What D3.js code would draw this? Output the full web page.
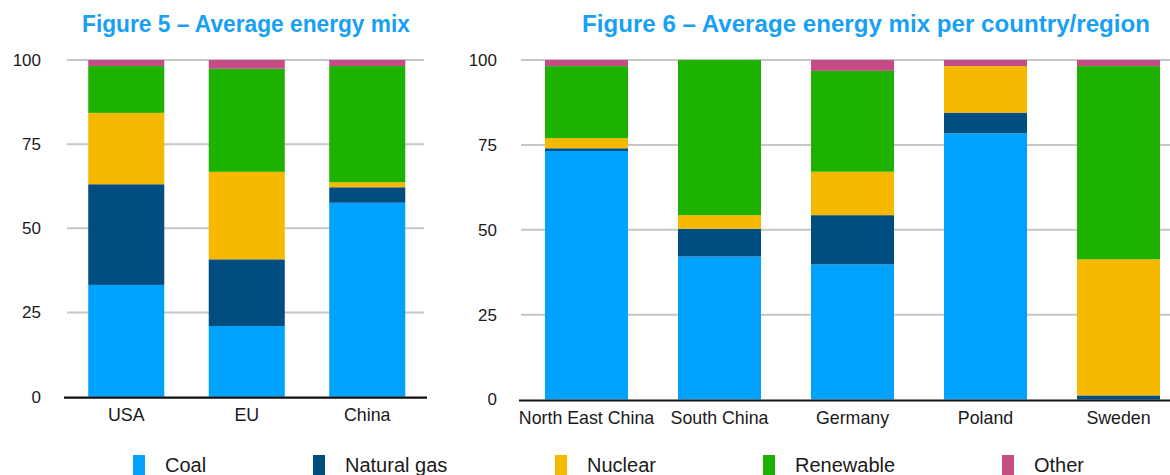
<!DOCTYPE html>
<html>
<head>
<meta charset="utf-8">
<script src="https://cdn.jsdelivr.net/npm/d3@7"></script>
<style>
  html, body { margin: 0; padding: 0; background: #fff; }
  svg { display: block; }
  text { font-family: "Liberation Sans", Arial, Helvetica, sans-serif; }
</style>
</head>
<body>
<svg id="chart" width="1170" height="475"></svg>
<script>
// Energy sources, bottom to top of each stack
const sources = ["Coal", "Natural gas", "Nuclear", "Renewable", "Other"];
const sourceColors = ["#00a2ff", "#004e80", "#f6b900", "#1db100", "#c54c84"];

// Figure 5: average mix by economy (%)
const regions5 = ["USA", "EU", "China"];
const coal5      = [33.2, 21.0, 57.6];
const gas5       = [29.9, 19.8, 4.6];
const nuclear5   = [21.2, 26.0, 1.5];
const renewable5 = [13.9, 30.6, 34.5];
const other5     = [1.8, 2.6, 1.8];

// Figure 6: average mix per country/region (%)
const regions6 = ["North East China", "South China", "Germany", "Poland", "Sweden"];
const coal6      = [73.2, 42.1, 39.8, 78.4, 0.0];
const gas6       = [0.8, 8.2, 14.5, 6.1, 1.2];
const nuclear6   = [3.0, 4.0, 12.8, 13.7, 40.1];
const renewable6 = [21.2, 45.7, 29.7, 0.0, 56.9];
const other6     = [1.8, 0.0, 3.2, 1.8, 1.8];

const yTicks = [0, 25, 50, 75, 100];

const svg = d3.select("#chart");
const color = d3.scaleOrdinal(sources, sourceColors);

function rows(cats, series) {
  return cats.map((c, i) => {
    const r = { cat: c };
    sources.forEach((s, k) => { r[s] = series[k][i]; });
    return r;
  });
}

function drawPanel(opt) {
  const g = svg.append("g");
  const x = d3.scaleBand().domain(opt.cats).range(opt.xRange)
    .paddingInner(opt.padIn).paddingOuter(opt.padIn / 2);
  const y = d3.scaleLinear().domain([0, 100]).range([opt.y0, opt.y100]);

  // gridlines
  g.append("g").selectAll("line").data(yTicks.filter(t => t > 0)).join("line")
    .attr("x1", opt.gridX[0]).attr("x2", opt.gridX[1])
    .attr("y1", d => y(d)).attr("y2", d => y(d))
    .attr("stroke", "#c6c6c6").attr("stroke-width", 2);

  // y tick labels
  const yAxis = d3.axisLeft(y).tickValues(yTicks).tickSize(0).tickPadding(0);
  const ya = g.append("g").attr("transform", `translate(${opt.labelX},0)`).call(yAxis);
  ya.select(".domain").remove();
  ya.selectAll("text").attr("font-size", 17).attr("fill", "#1a1a1a")
    .attr("font-family", "Liberation Sans, Arial, sans-serif");

  // stacked bars
  const stacked = d3.stack().keys(sources)(rows(opt.cats, opt.series));
  g.append("g").selectAll("g").data(stacked).join("g")
    .attr("fill", d => color(d.key))
    .selectAll("rect").data(d => d).join("rect")
    .attr("x", d => x(d.data.cat))
    .attr("width", x.bandwidth())
    .attr("y", d => y(d[1]))
    .attr("height", d => Math.max(0, y(d[0]) - y(d[1])));

  // baseline
  g.append("line")
    .attr("x1", opt.baseX[0]).attr("x2", opt.baseX[1])
    .attr("y1", y(0) + 1).attr("y2", y(0) + 1)
    .attr("stroke", "#111").attr("stroke-width", 2.2);

  // category labels
  const xAxis = d3.axisBottom(x).tickSize(0).tickPadding(0);
  const xa = g.append("g").attr("transform", `translate(0,${opt.y0 + 12})`).call(xAxis);
  xa.select(".domain").remove();
  xa.selectAll("text").attr("font-size", 17.8).attr("fill", "#1a1a1a")
    .attr("font-family", "Liberation Sans, Arial, sans-serif");

  // title
  g.append("text")
    .attr("x", opt.titleX).attr("y", 32)
    .attr("text-anchor", "middle")
    .attr("font-size", 23).attr("font-weight", "bold")
    .attr("fill", "#18a0f5")
    .attr("textLength", opt.titleW).attr("lengthAdjust", "spacingAndGlyphs")
    .text(opt.title);
}

drawPanel({
  title: "Figure 5 \u2013 Average energy mix",
  titleX: 246, titleW: 328,
  cats: regions5,
  series: [coal5, gas5, nuclear5, renewable5, other5],
  xRange: [66, 427.5], padIn: 0.369,
  y0: 396.7, y100: 60,
  gridX: [67, 424], baseX: [64, 427], labelX: 41
});

drawPanel({
  title: "Figure 6 \u2013 Average energy mix per country/region",
  titleX: 866, titleW: 568,
  cats: regions6,
  series: [coal6, gas6, nuclear6, renewable6, other6],
  xRange: [520, 1185], padIn: 0.376,
  y0: 399.5, y100: 60,
  gridX: [521, 1170], baseX: [519, 1170], labelX: 497
});

// legend
const legendX = [133, 313, 555, 763, 1002];
const lg = svg.append("g").selectAll("g").data(sources).join("g")
  .attr("transform", (d, i) => `translate(${legendX[i]},455)`);
lg.append("rect").attr("width", 12).attr("height", 20).attr("fill", d => color(d));
lg.append("text").attr("x", 32).attr("y", 17)
  .attr("font-size", 20).attr("fill", "#1a1a1a").text(d => d);
</script>
</body>
</html>
